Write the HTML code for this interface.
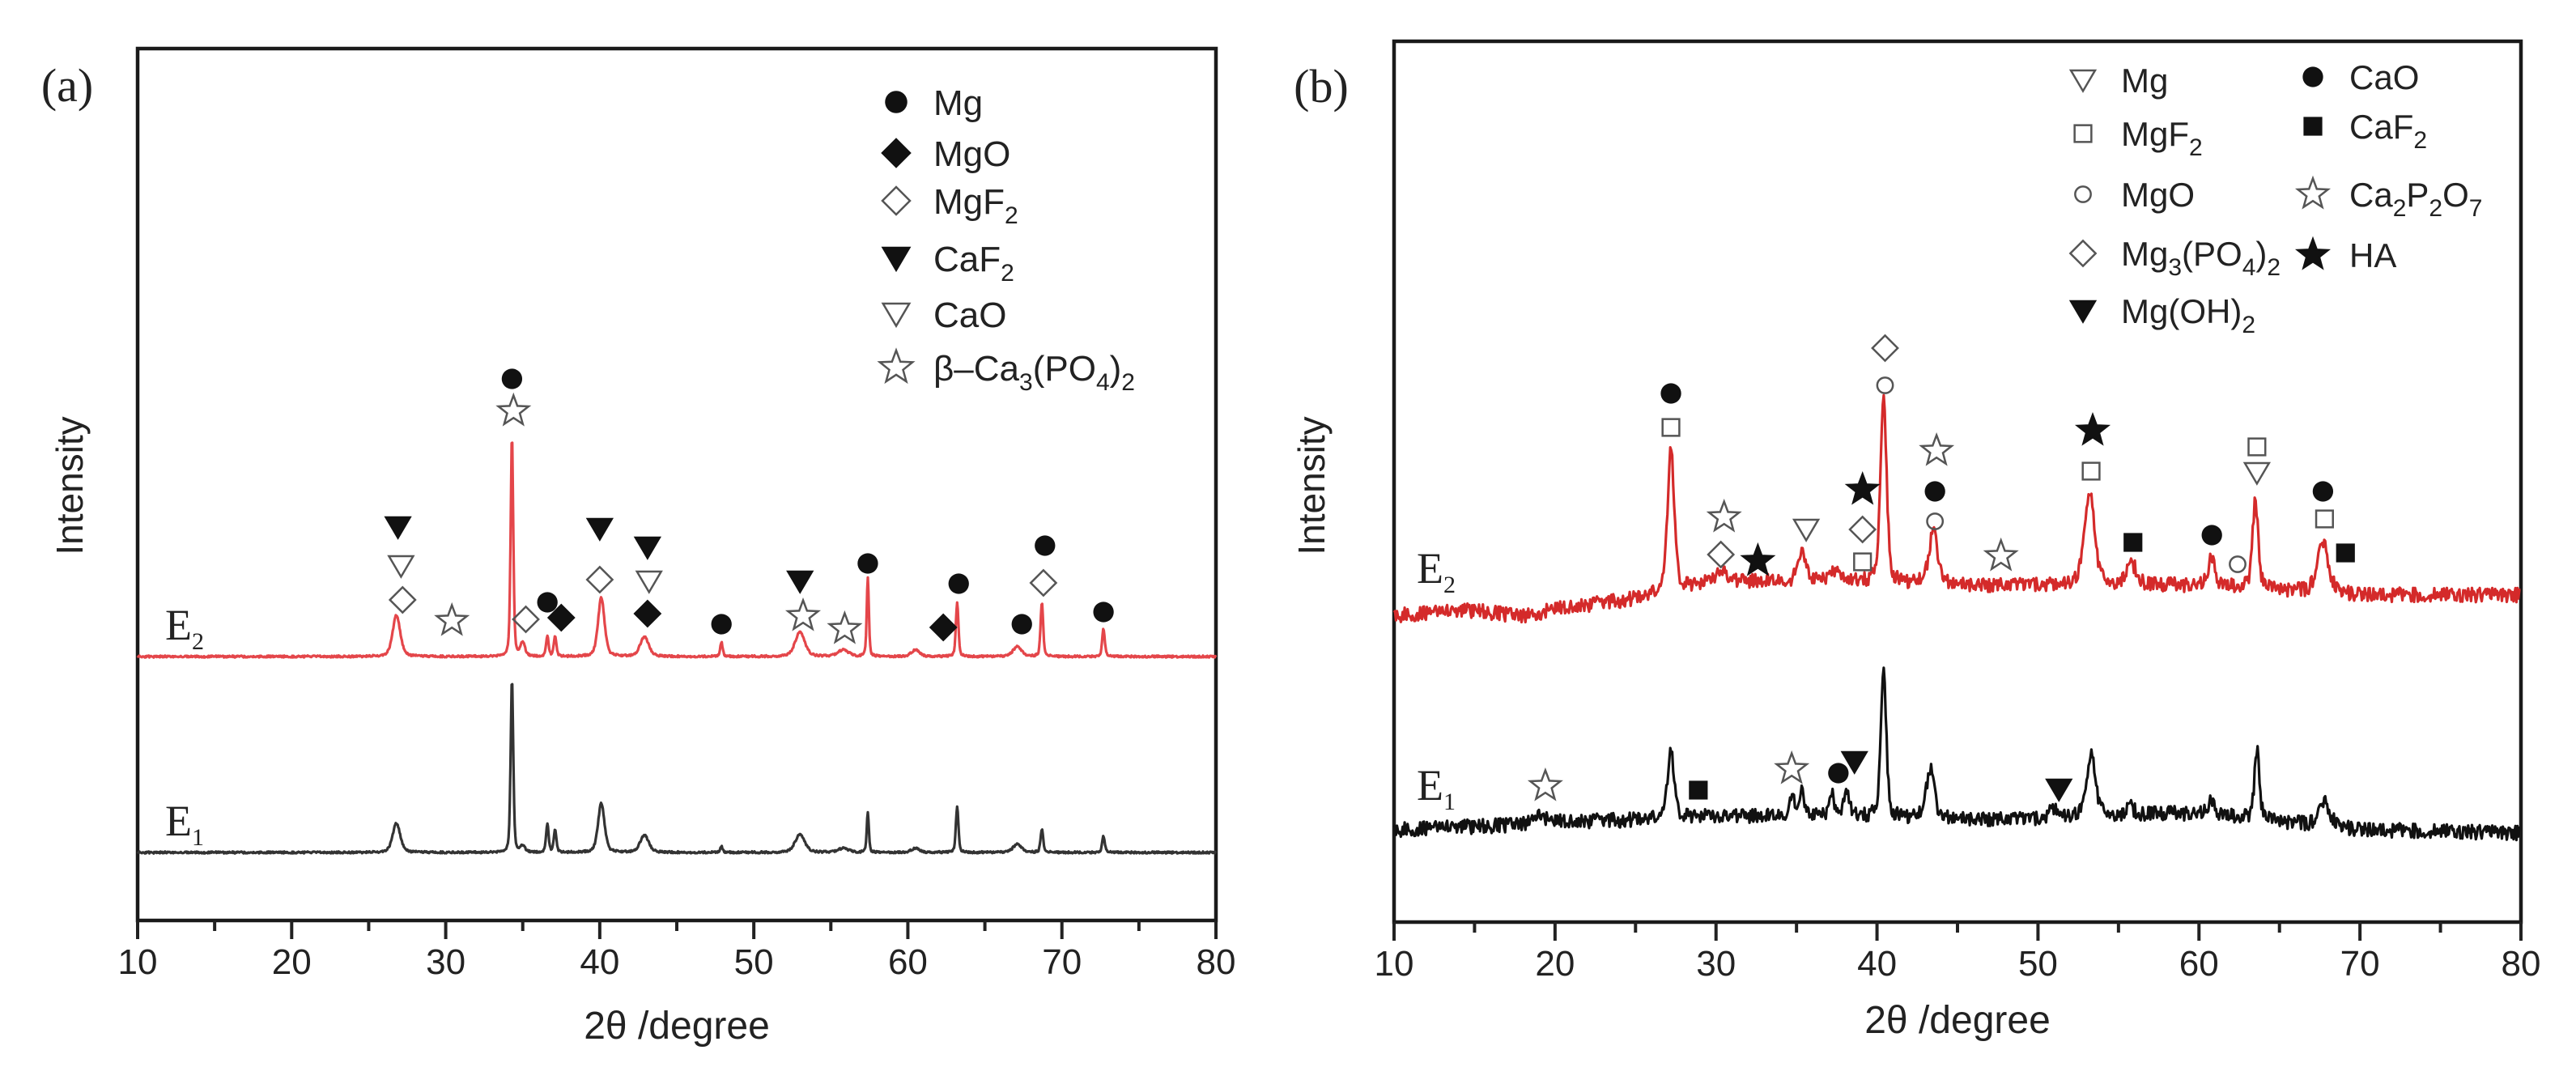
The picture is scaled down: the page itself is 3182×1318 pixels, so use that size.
<!DOCTYPE html>
<html><head><meta charset="utf-8"><style>
html,body{margin:0;padding:0;background:#fff;}
svg{display:block;}
text{font-family:"Liberation Sans",Arial,sans-serif;fill:#222;}
.serif{font-family:"Liberation Serif","Times New Roman",serif;}
</style></head><body>
<svg id="fig" xmlns="http://www.w3.org/2000/svg" width="3182" height="1318" viewBox="0 0 3182 1318">
<g id="panelA"></g>
<g id="panelB"></g>
</svg>
<script>
// ---------- Panel (a) data ----------
const aPeakPos   = [26.8,34.3,35.0,36.6,37.1,40.1,42.9,47.9,53.0,55.8,57.4,60.5,63.2,67.1,68.7,72.7];
const aPeakWidth = [0.35,0.12,0.2,0.12,0.12,0.3,0.4,0.12,0.45,0.5,0.1,0.4,0.12,0.4,0.12,0.12];
const aRedHeights   = [51,273,17,25,25,73,24,17,30,8,97,8,67,12,67,34];
const aBlackHeights = [36,215,8,35,28,61,21,7,22,5,49,5,57,10,29,20];
const aRedBase = 326;
const aBlackBase = 84;
const aMarkerSym = ['tri','otri','odia','ostar','dot','ostar','dot','odia','dia','tri','odia','tri','otri','dia','dot','tri','ostar','ostar','dot','dot','dia','dot','dot','odia','dot'];
const aMarkerX   = [26.9,27.1,27.2,30.4,34.3,34.4,36.6,35.2,37.5,40.0,40.0,43.1,43.2,43.1,47.9,53.0,53.2,55.9,57.4,63.3,62.3,67.4,68.9,68.8,72.7];
const aMarkerV   = [486,438,396,370,669,629,393,372,374,484,421,461,419,379,366,419,376,360,441,416,362,366,463,417,381];
const aTicks = [10,20,30,40,50,60,70,80];

// ---------- Panel (b) data ----------
const bBaseX     = [10,15,18,20,25,30,38,45,50,57,60,70,80];
const bRedBase   = [379,385,377,387,399,421,421,416,416,416,416,404,404];
const bBlackBase = [114,118,120,124,126,131,131,127,127,134,134,114,110];
const bRedPos    = [27.2,30.3,35.3,37.5,40.4,43.5,53.2,55.8,60.8,63.5,67.7];
const bRedWidth  = [0.3,0.4,0.35,0.5,0.28,0.4,0.45,0.5,0.3,0.25,0.5];
const bRedHeights= [175,15,37,12,224,62,114,26,38,107,62];
const bBlackPos    = [19.0,27.2,34.7,35.3,37.2,38.1,40.4,43.3,51.0,53.3,55.7,60.8,63.6,67.8];
const bBlackWidth  = [0.4,0.3,0.2,0.2,0.2,0.25,0.25,0.35,0.4,0.4,0.3,0.3,0.22,0.5];
const bBlackHeights= [15,82,29,33,25,33,177,60,12,75,12,20,85,30];
const bMarkerSym = ['dot','osq','ostar','odia','star','otri','star','odia','osq','odia','ocir','ostar','dot','ocir','ostar','star','osq','sq','dot','ocir','osq','otri','dot','osq','sq','ostar','sq','ostar','dot','tri','tri'];
const bMarkerX   = [27.2,27.2,30.5,30.3,32.6,35.6,39.1,39.1,39.1,40.5,40.5,43.7,43.6,43.6,47.7,53.4,53.3,55.9,60.8,62.4,63.6,63.6,67.7,67.8,69.1,19.4,28.9,34.7,37.6,38.6,51.3];
const bMarkerV   = [653,611,500,454,446,485,534,485,445,709,663,582,532,495,452,607,557,469,478,442,587,555,532,498,456,168,163,189,184,198,164];
const bTicks = [10,20,30,40,50,60,70,80];

// ---------- helpers ----------
const NS = 'http://www.w3.org/2000/svg';
function mk(tag, attrs, parent){ const e=document.createElementNS(NS,tag); for(const k in attrs) e.setAttribute(k,attrs[k]); if(parent) parent.appendChild(e); return e; }
function jitter(i,amp){ const s=Math.sin(i*12.9898+78.233)*43758.5453; return (s-Math.floor(s)-0.5)*2*amp; }
function interp(xs,ys,x){ if(x<=xs[0]) return ys[0]; for(let i=1;i<xs.length;i++){ if(x<=xs[i]){ const t=(x-xs[i-1])/(xs[i]-xs[i-1]); return ys[i-1]+t*(ys[i]-ys[i-1]); } } return ys[ys.length-1]; }
function profile(x,pos,wid,hts){ let v=0; for(let i=0;i<pos.length;i++){ const d=(x-pos[i])/wid[i]; v+=hts[i]*(0.6*Math.exp(-d*d)+0.4/(1+d*d*1.5)); } return v; }

function marker(g,sym,cx,cy,s){
  let e;
  if(sym==='dot'){ e=mk('circle',{cx:cx,cy:cy,r:s*0.55,fill:'#111'},g); }
  else if(sym==='ocir'){ e=mk('circle',{cx:cx,cy:cy,r:s*0.42,fill:'none',stroke:'#555','stroke-width':2.5},g); }
  else if(sym==='dia'||sym==='odia'){ const r=s*0.68; e=mk('polygon',{points:`${cx},${cy-r} ${cx+r},${cy} ${cx},${cy+r} ${cx-r},${cy}`,fill:sym==='dia'?'#111':'none',stroke:sym==='dia'?'#111':'#555','stroke-width':2.5},g); }
  else if(sym==='tri'||sym==='otri'){ const r=s*0.65; e=mk('polygon',{points:`${cx-r},${cy-r*0.8} ${cx+r},${cy-r*0.8} ${cx},${cy+r*0.9}`,fill:sym==='tri'?'#111':'none',stroke:sym==='tri'?'#111':'#555','stroke-width':2.5},g); }
  else if(sym==='sq'||sym==='osq'){ const r=s*0.45; e=mk('rect',{x:cx-r,y:cy-r,width:2*r,height:2*r,fill:sym==='sq'?'#111':'none',stroke:sym==='sq'?'#111':'#555','stroke-width':2.5},g); }
  else { const R=s*0.85, r=R*0.42; let p=[]; for(let k=0;k<10;k++){ const a=-Math.PI/2+k*Math.PI/5; const rr=k%2?r:R; p.push((cx+rr*Math.cos(a)).toFixed(1)+','+(cy+rr*Math.sin(a)).toFixed(1)); }
    e=mk('polygon',{points:p.join(' '),fill:sym==='star'?'#111':'none',stroke:sym==='star'?'#111':'#555','stroke-width':2.5},g); }
  return e;
}

function frame(g,L,R,T,B,ticks,xs){
  const f=mk('rect',{x:L,y:T,width:R-L,height:B-T,fill:'none',stroke:'#1a1a1a','stroke-width':4.5},g);
  
  
  for(let v=10; v<=80; v+=5){
    const major=(v%10===0);
    const t=mk('line',{x1:xs(v),x2:xs(v),y1:B,y2:B+(major?23:13),stroke:'#222','stroke-width':4},g);
    
    
  }
  ticks.forEach(v=>{
    const t=mk('text',{x:xs(v),y:B+66,'text-anchor':'middle','font-size':44},g);
    t.textContent=v;
    
    
  });
}
function trace(g,xs,ys,fn,step,noise,color,name){
  let d=''; let i=0;
  for(let x=10;x<=80.0001;x+=step,i++){ const v=fn(x)+jitter(i+(name.length*977),noise); d+=(i?'L':'M')+xs(x).toFixed(1)+','+ys(v).toFixed(1); }
  const p=mk('path',{d:d,fill:'none',stroke:color,'stroke-width':3.2,'stroke-linejoin':'round'},g);
  
  
}
function sub(t,parts){
  parts.forEach(pt=>{ const s=mk('tspan',{},t); if(pt[1]){ s.setAttribute('dy','12'); s.setAttribute('font-size','30'); } else if(t.__subbed){ s.setAttribute('dy','-12'); } t.__subbed=pt[1]; s.textContent=pt[0]; });
}

// ---------- Panel (a) ----------
(function(){
  const g=document.getElementById('panelA');
  const L=170,R=1502,T=60,B=1137;
  const xs=v=>L+(v-10)/70*(R-L);
  const ys=v=>B-v;
  frame(g,L,R,T,B,aTicks,xs);
  trace(g,xs,ys,x=>aBlackBase+profile(x,aPeakPos,aPeakWidth,aBlackHeights),0.04,1.2,'#333','e1-trace');
  trace(g,xs,ys,x=>aRedBase+profile(x,aPeakPos,aPeakWidth,aRedHeights),0.04,1.2,'#e4464a','e2-trace');
  aMarkerSym.forEach((s,i)=>{ const m=marker(g,s,xs(aMarkerX[i]),ys(aMarkerV[i]),23);
    
     });
  const leg=[['dot',[['Mg',0]]],['dia',[['MgO',0]]],['odia',[['MgF',0],['2',1]]],['tri',[['CaF',0],['2',1]]],['otri',[['CaO',0]]],['ostar',[['β–Ca',0],['3',1],['(PO',0],['4',1],[')',0],['2',1]]]];
  const rows=[126,189,248,319,388,454];
  leg.forEach((e,i)=>{
    const lg=mk('g',{},g);
    
    
    marker(lg,e[0],1107,rows[i],25);
    const t=mk('text',{x:1153,y:rows[i]+16,'font-size':44},lg); sub(t,e[1]);
  });
  let t=mk('text',{x:83,y:125,'font-size':58,'text-anchor':'middle',class:'serif'},g); t.textContent='(a)';
   
  t=mk('text',{x:204,y:790,'font-size':54,class:'serif'},g); sub(t,[['E',0],['2',1]]);
   
  t=mk('text',{x:204,y:1032,'font-size':54,class:'serif'},g); sub(t,[['E',0],['1',1]]);
   
  t=mk('text',{x:0,y:0,'font-size':46,'text-anchor':'middle',transform:'translate(102,600) rotate(-90)'},g); t.textContent='Intensity';
   
  t=mk('text',{x:836,y:1283,'font-size':48,'text-anchor':'middle'},g); t.textContent='2θ /degree';
   
})();

// ---------- Panel (b) ----------
(function(){
  const g=document.getElementById('panelB');
  const L=1722,R=3114,T=51,B=1139;
  const xs=v=>L+(v-10)/70*(R-L);
  const ys=v=>B-v;
  frame(g,L,R,T,B,bTicks,xs);
  trace(g,xs,ys,x=>interp(bBaseX,bBlackBase,x)+profile(x,bBlackPos,bBlackWidth,bBlackHeights),0.06,9,'#111','e1-trace-b');
  trace(g,xs,ys,x=>interp(bBaseX,bRedBase,x)+profile(x,bRedPos,bRedWidth,bRedHeights),0.06,9,'#d42a2a','e2-trace-b');
  bMarkerSym.forEach((s,i)=>{ const m=marker(g,s,xs(bMarkerX[i]),ys(bMarkerV[i]),23);
    
     });
  const leg1=[['otri',[['Mg',0]],114],['osq',[['MgF',0],['2',1]],180],['ocir',[['MgO',0]],255],['odia',[['Mg',0],['3',1],['(PO',0],['4',1],[')',0],['2',1]],328],['tri',[['Mg(OH)',0],['2',1]],399]];
  const leg2=[['dot',[['CaO',0]],110],['sq',[['CaF',0],['2',1]],171],['ostar',[['Ca',0],['2',1],['P',0],['2',1],['O',0],['7',1]],255],['star',[['HA',0]],330]];
  [[leg1,2573,2620],[leg2,2857,2902]].forEach(col=>{
    col[0].forEach(e=>{
      const lg=mk('g',{},g);
      
      
      marker(lg,e[0],col[1],e[2]-15,23);
      const t=mk('text',{x:col[2],y:e[2],'font-size':42},lg); sub(t,e[1]);
    });
  });
  let t=mk('text',{x:1632,y:126,'font-size':58,'text-anchor':'middle',class:'serif'},g); t.textContent='(b)';
   
  t=mk('text',{x:1750,y:720,'font-size':54,class:'serif'},g); sub(t,[['E',0],['2',1]]);
   
  t=mk('text',{x:1750,y:988,'font-size':54,class:'serif'},g); sub(t,[['E',0],['1',1]]);
   
  t=mk('text',{x:0,y:0,'font-size':46,'text-anchor':'middle',transform:'translate(1636,600) rotate(-90)'},g); t.textContent='Intensity';
   
  t=mk('text',{x:2418,y:1276,'font-size':48,'text-anchor':'middle'},g); t.textContent='2θ /degree';
   
})();
</script>
</body></html>
